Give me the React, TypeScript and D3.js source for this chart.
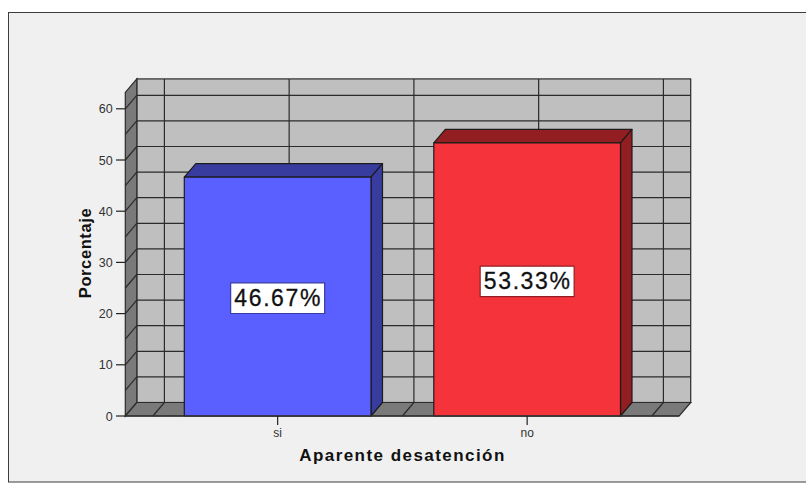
import React from "react";
import * as d3 from "d3";

const categories = ["si", "no"];
const values = [46.67, 53.33];
const labels = ["46.67%", "53.33%"];
const fills = ["#5a5fff", "#f4333b"];
const sideFills = ["#383c9f", "#931e22"];
const yTicks = [0, 10, 20, 30, 40, 50, 60];
const yGrid = [5, 10, 15, 20, 25, 30, 35, 40, 45, 50, 55, 60];
const xTitle = "Aparente desatención";
const yTitle = "Porcentaje";

const W = 806, H = 483;
const DX = 11.5, DY = 13.5;
const FONT = "'Liberation Sans', Arial, sans-serif";
const LINE = "#2b2b2b";

const y = d3.scaleLinear().domain([0, 60]).range([416, 108.8]);
const yTop = 63.2;
const x = d3.scaleBand<string>().domain(categories).range([152.9, 651.9]).paddingInner(0).paddingOuter(0);
const barW = 186.7;
const left = 125.3, right = 679.2;

const pts = (p: [number, number][]) => d3.line()(p) + "Z";

export default function App() {
  const backVerticals = [x("si")!, x("si")! + x.bandwidth() / 2, x("no")!, x("no")! + x.bandwidth() / 2, x("no")! + x.bandwidth()];
  return (
    <svg width={W} height={H} style={{ position: "absolute", left: 0, top: 0, background: "#fff" }} fontFamily={FONT}>
      <rect x={8.5} y={12.5} width={W} height={469.5} fill="#f0f0f0" stroke="#3c3c3c" strokeWidth={1} />

      {/* back wall */}
      <rect x={left + DX} y={y(yTop) - DY} width={right - left} height={y(0) - y(yTop)} fill="#bfbfbf" stroke={LINE} strokeWidth={1.2} />
      {/* left wall */}
      <path d={pts([[left, y(0)], [left + DX, y(0) - DY], [left + DX, y(yTop) - DY], [left, y(yTop)]])} fill="#7a7a7a" stroke={LINE} strokeWidth={1.2} />
      {/* floor */}
      <path d={pts([[left, y(0)], [right, y(0)], [right + DX, y(0) - DY], [left + DX, y(0) - DY]])} fill="#7a7a7a" stroke={LINE} strokeWidth={1.2} />

      {yGrid.map((v) => (
        <g key={v} stroke={LINE} strokeWidth={1.2} fill="none">
          <line x1={left + DX} x2={right + DX} y1={y(v) - DY} y2={y(v) - DY} />
          <line x1={left} x2={left + DX} y1={y(v)} y2={y(v) - DY} />
        </g>
      ))}
      {backVerticals.map((v, i) => (
        <g key={i} stroke={LINE} strokeWidth={1.2}>
          <line x1={v + DX} x2={v + DX} y1={y(yTop) - DY} y2={y(0) - DY} />
          <line x1={v} x2={v + DX} y1={y(0)} y2={y(0) - DY} />
        </g>
      ))}

      {/* bars */}
      {categories.map((c, i) => {
        const cx = x(c)! + x.bandwidth() / 2;
        const x0 = cx - barW / 2, x1 = cx + barW / 2, t = y(values[i]), b = y(0);
        const ly = i === 0 ? 298.2 : 281.4;
        return (
          <g key={c} stroke="#1c1c1c" strokeWidth={1.2} strokeLinejoin="round">
            <path d={pts([[x0, t], [x0 + DX, t - DY], [x1 + DX, t - DY], [x1, t]])} fill={sideFills[i]} />
            <path d={pts([[x1, t], [x1 + DX, t - DY], [x1 + DX, b - DY], [x1, b]])} fill={sideFills[i]} />
            <rect x={x0} y={t} width={barW} height={b - t} fill={fills[i]} />
            <rect x={cx - 47} y={ly - 15.3} width={94} height={30.6} fill="#fff" stroke={sideFills[i]} strokeWidth={1.2} />
            <text x={cx + 0.5} y={ly + 8} textAnchor="middle" fontSize={23} letterSpacing={1.6} fill="#111" stroke="#111" strokeWidth={0.3}>{labels[i]}</text>
          </g>
        );
      })}

      {/* axes */}
      <line x1={left} x2={right} y1={y(0)} y2={y(0)} stroke="#333" strokeWidth={1.6} />
      {yTicks.map((v) => (
        <g key={v}>
          <line x1={116} x2={left} y1={y(v)} y2={y(v)} stroke="#222" strokeWidth={1.2} />
          <text x={113} y={y(v) + 4.5} textAnchor="end" fontSize={12.5} letterSpacing={0.2} fill="#333">{v}</text>
        </g>
      ))}
      {categories.map((c) => {
        const cx = x(c)! + x.bandwidth() / 2;
        return (
          <g key={c}>
            <line x1={cx} x2={cx} y1={y(0)} y2={y(0) + 9} stroke="#222" strokeWidth={1.2} />
            <text x={cx} y={437} textAnchor="middle" fontSize={12} fill="#333">{c}</text>
          </g>
        );
      })}
      <text x={402.5} y={461} textAnchor="middle" fontSize={17} fontWeight="bold" letterSpacing={1.45} fill="#111">{xTitle}</text>
      <text transform="translate(91,253) rotate(-90)" textAnchor="middle" fontSize={16.5} fontWeight="bold" fill="#111" letterSpacing={0.6}>{yTitle}</text>
    </svg>
  );
}
